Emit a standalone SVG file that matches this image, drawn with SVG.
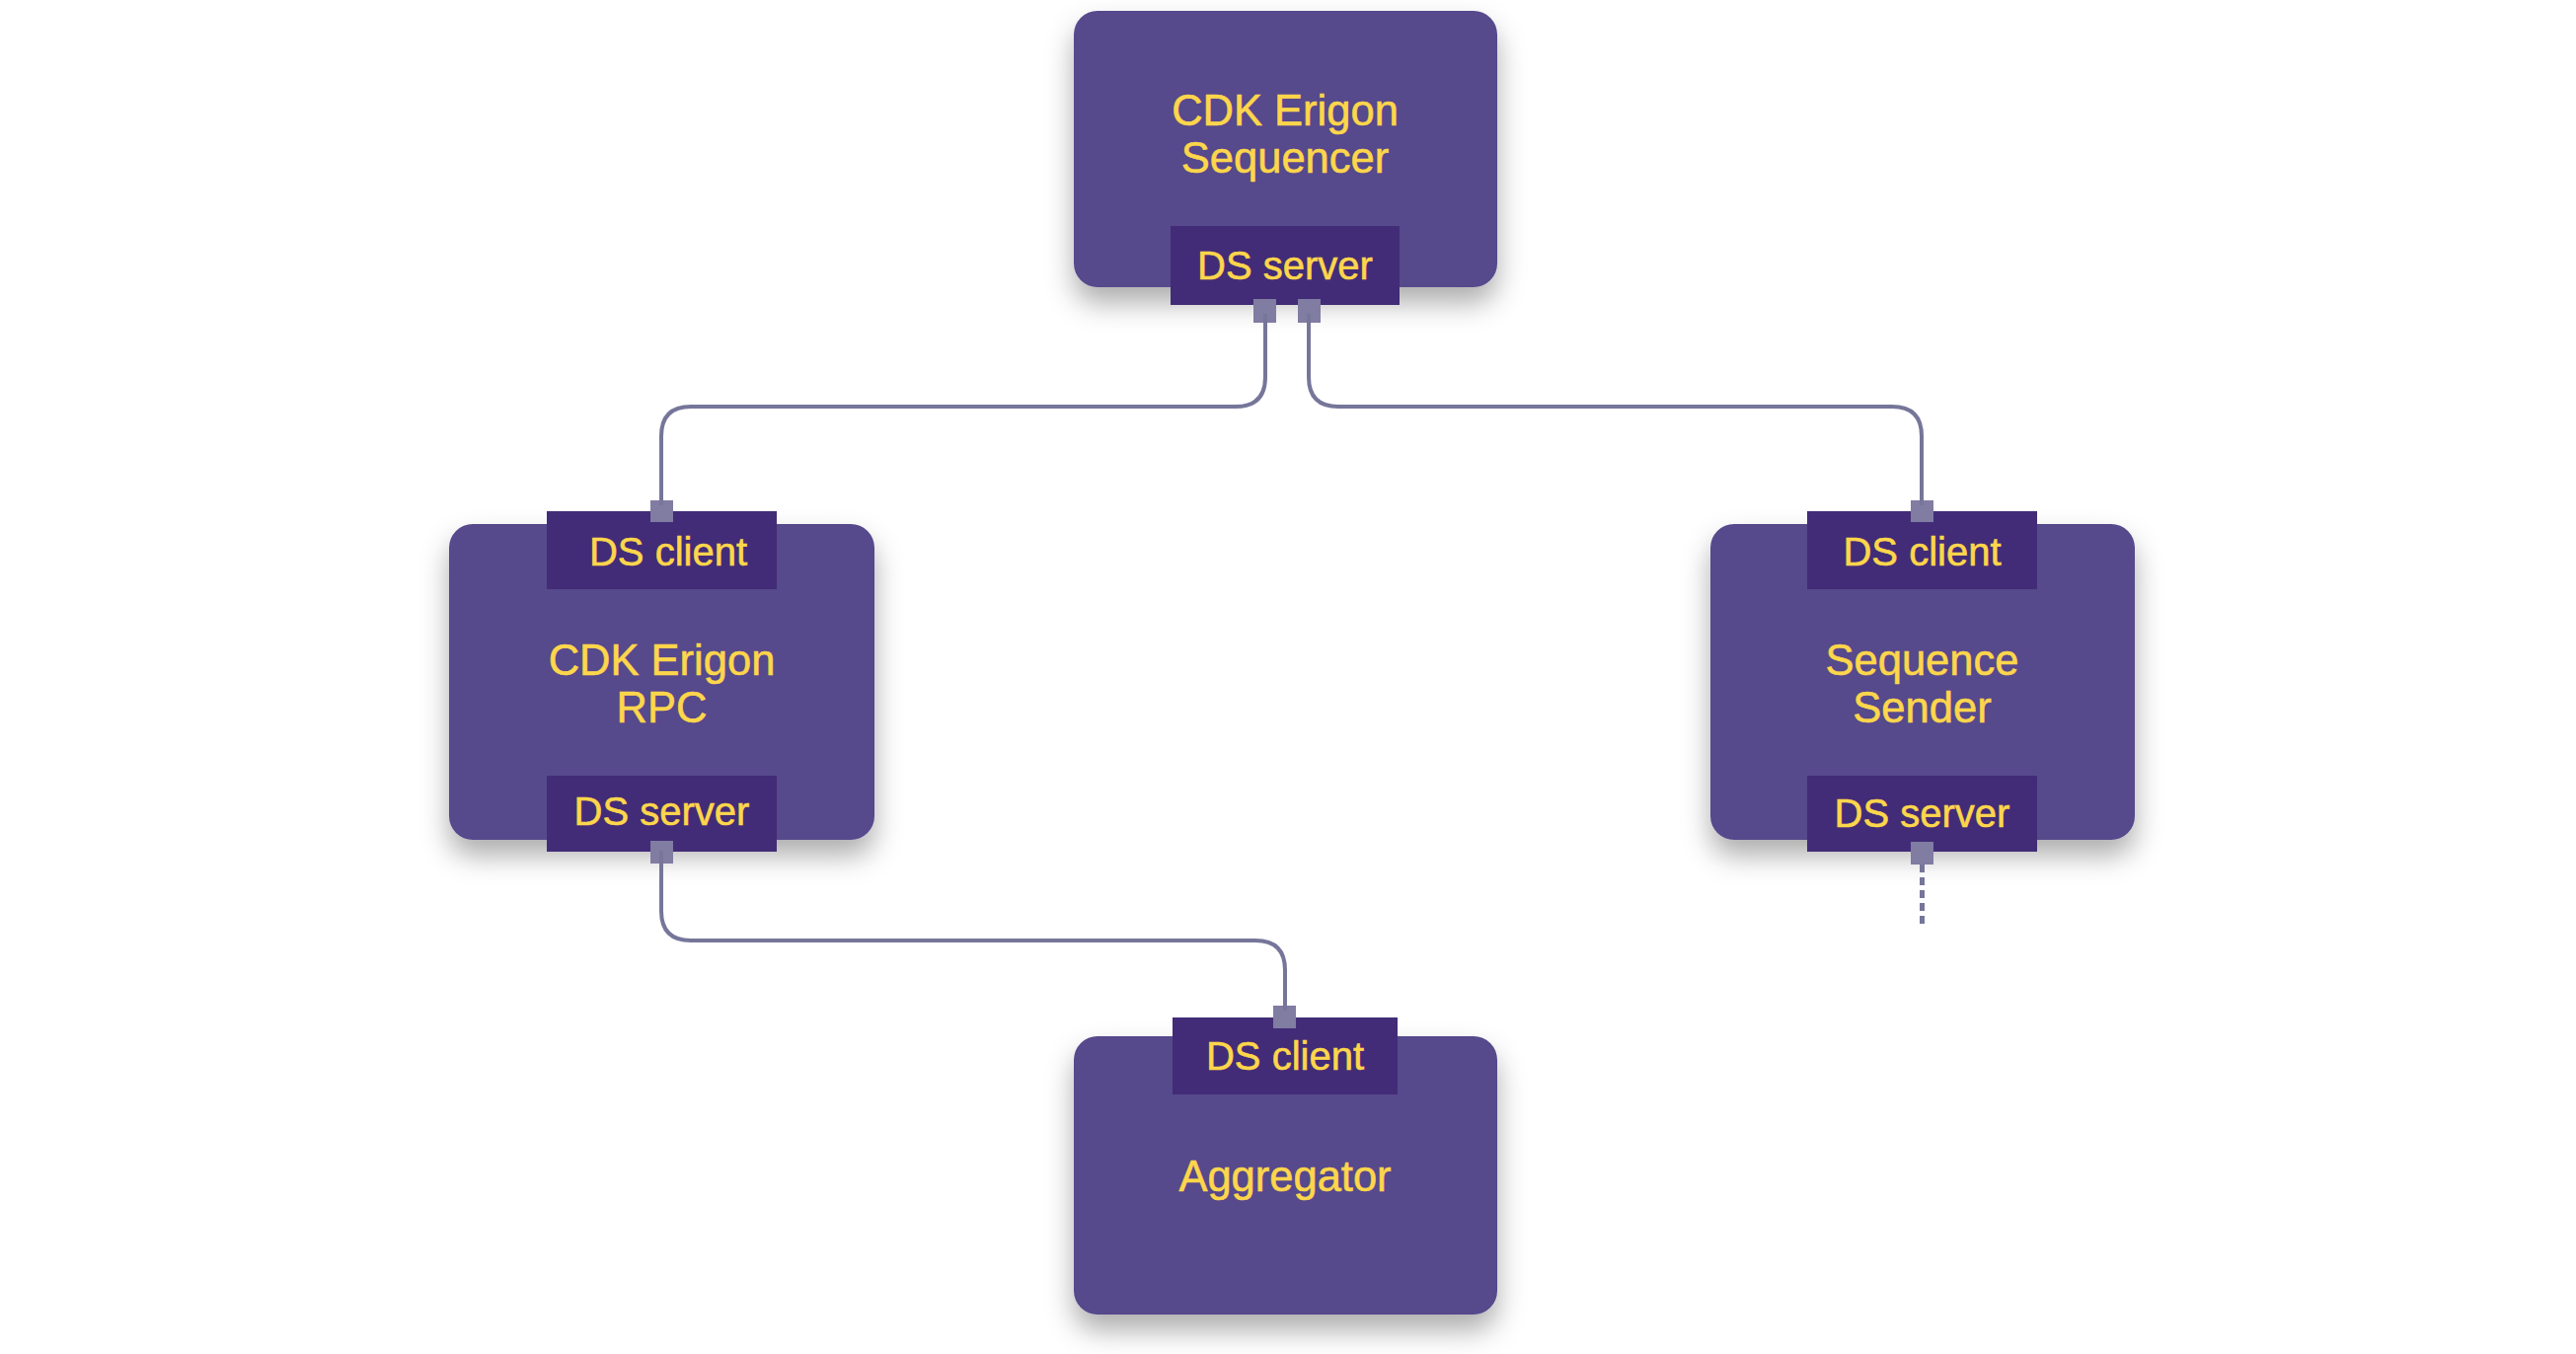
<svg xmlns="http://www.w3.org/2000/svg" width="2610" height="1372" viewBox="0 0 2610 1372">
<defs>
<filter id="sh" x="-20%" y="-20%" width="140%" height="160%">
<feDropShadow dx="0" dy="16" stdDeviation="14" flood-color="#000" flood-opacity="0.32"/>
</filter>
</defs>
<style>
.node{fill:#564a8c;filter:url(#sh)}
.port{fill:#422c77}
.pin{fill:#807ca2}
.t{font-family:"Liberation Sans",Arial,sans-serif;fill:#fdd64b;text-anchor:middle;stroke:#fdd64b;stroke-width:0.6}
.big{font-size:43.5px}
.sm{font-size:40px}
.c{fill:none;stroke:#76769a;stroke-width:4}
.d{fill:none;stroke:#76769a;stroke-width:5;stroke-dasharray:8 5}
</style>
<rect width="2610" height="1372" fill="#fff"/>
<g id="sequencer">
<rect class="node" x="1088" y="11" width="429" height="280" rx="24"/>
<text class="t big" x="1302" y="127">CDK Erigon</text>
<text class="t big" x="1302" y="175">Sequencer</text>
<rect class="port" x="1186" y="229" width="232" height="80"/>
<text class="t sm" x="1302" y="283">DS server</text>
<rect class="pin" x="1270" y="303" width="23" height="24"/>
<rect class="pin" x="1315" y="303" width="23" height="24"/>
</g>
<g id="rpc">
<rect class="node" x="455" y="531" width="431" height="320" rx="24"/>
<rect class="port" x="554" y="518" width="233" height="79"/>
<text class="t sm" x="677" y="573">DS client</text>
<text class="t big" x="670.5" y="684">CDK Erigon</text>
<text class="t big" x="670.5" y="732">RPC</text>
<rect class="port" x="554" y="786" width="233" height="77"/>
<text class="t sm" x="670.5" y="836">DS server</text>
<rect class="pin" x="659" y="507" width="23" height="22"/>
<rect class="pin" x="659" y="852" width="23" height="23"/>
</g>
<g id="sender">
<rect class="node" x="1733" y="531" width="430" height="320" rx="24"/>
<rect class="port" x="1831" y="518" width="233" height="79"/>
<text class="t sm" x="1947.5" y="573">DS client</text>
<text class="t big" x="1947.5" y="684">Sequence</text>
<text class="t big" x="1947.5" y="732">Sender</text>
<rect class="port" x="1831" y="786" width="233" height="77"/>
<text class="t sm" x="1947.5" y="838">DS server</text>
<rect class="pin" x="1936" y="507" width="23" height="22"/>
<rect class="pin" x="1936" y="853" width="23" height="23"/>
</g>
<g id="aggregator">
<rect class="node" x="1088" y="1050" width="429" height="282" rx="24"/>
<rect class="port" x="1188" y="1031" width="228" height="78"/>
<text class="t sm" x="1302" y="1084">DS client</text>
<text class="t big" x="1302" y="1207">Aggregator</text>
<rect class="pin" x="1290" y="1019" width="23" height="23"/>
</g>
<g id="connectors">
<path class="c" d="M1282 318 V382 Q1282 412 1252 412 H700 Q670 412 670 442 V512"/>
<path class="c" d="M1326 318 V382 Q1326 412 1356 412 H1917 Q1947 412 1947 442 V512"/>
<path class="c" d="M670 862 V923 Q670 953 700 953 H1272 Q1302 953 1302 983 V1024"/>
<path class="d" d="M1947.5 876 V936"/>
</g>
</svg>
